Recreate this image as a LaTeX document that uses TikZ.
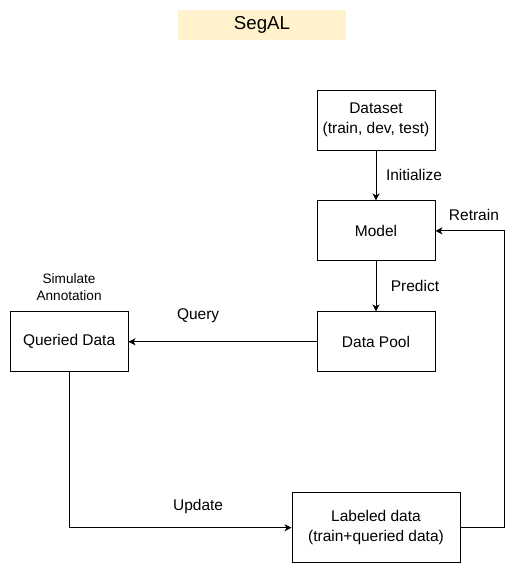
\documentclass[tikz,border=0pt]{standalone}
\usepackage{fontspec}
\setmainfont{Liberation Sans}
\usetikzlibrary{positioning,arrows.meta}
\definecolor{titlefill}{HTML}{FFF2CC}
\tikzset{
  block/.style={draw, line width=0.9pt, minimum width=118pt, minimum height=60pt, align=center, font=\fontsize{15.5}{20}\selectfont},
  titlebox/.style={fill=titlefill, minimum width=168pt, minimum height=30pt, font=\fontsize{18.7}{22}\selectfont},
  note/.style={align=center, font=\fontsize{13.6}{17}\selectfont},
  lbl/.style={font=\fontsize{15.5}{20}\selectfont},
  arr/.style={-{Stealth[length=7pt,width=7pt,inset=2pt]}, line width=0.9pt},
}
\begin{document}
\begin{tikzpicture}[x=1pt,y=-1pt]
  \useasboundingbox (0,0) rectangle (529,571);

  % Define nodes

  \node[titlebox] (segal) at (262,25) {SegAL};
  \node[block] (dataset) at (376,120) {Dataset\\(train, dev, test)};
  \node[block, below=50pt of dataset] (model) {Model};
  \node[block, below=50pt of model] (pool) {Data Pool};
  \node[block, left=188pt of pool] (queried) {Queried Data};
  \node[block, below=120pt of pool, minimum width=168pt, minimum height=70pt] (labeled) {Labeled data\\(train+queried data)};
  \node[note, above=7pt of queried] (annot) {Simulate\\Annotation};

  % Connect the nodes
  \draw[arr] (dataset) -- node[lbl, xshift=38pt] (init) {Initialize} (model);
  \draw[arr] (model) -- node[lbl, xshift=39pt] (predict) {Predict} (pool);
  \draw[arr] (pool) -- node[lbl, pos=0.63, yshift=26pt] (query) {Query} (queried);
  \draw[arr] (queried) |- node[lbl, pos=0.79, yshift=21pt] (update) {Update} (labeled);
  \draw[arr] (labeled.east) -- ++(44,0) |- node[lbl, pos=0.75, xshift=4pt, yshift=16pt] (retrain) {Retrain} (model);

\end{tikzpicture}
\end{document}
